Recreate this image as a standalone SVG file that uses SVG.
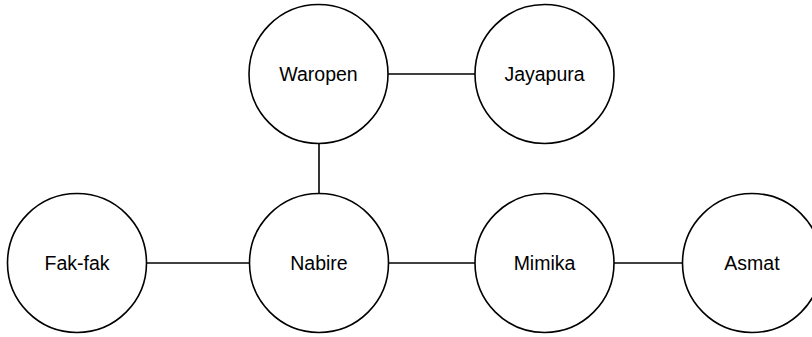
<svg xmlns="http://www.w3.org/2000/svg" width="812" height="337" viewBox="0 0 812 337">
  <style>
    .node circle { fill: #ffffff; stroke: #000000; stroke-width: 1.6; }
    .node text { font-family: "Liberation Sans", Arial, Helvetica, sans-serif; font-size: 19.5px; fill: #000000; text-anchor: middle; }
    .edges line { stroke: #000000; stroke-width: 1.6; }
  </style>
  <rect width="812" height="337" fill="#ffffff"/>
  <g id="edges" class="edges">
    <line x1="388" y1="74" x2="475" y2="74"/>
    <line x1="319" y1="143.5" x2="319" y2="193.5"/>
    <line x1="146.5" y1="263" x2="249.5" y2="263"/>
    <line x1="388.5" y1="263" x2="475" y2="263"/>
    <line x1="614" y1="263" x2="682.5" y2="263"/>
  </g>
  <g id="waropen" class="node">
    <circle cx="318.5" cy="74" r="69.5"/>
    <text x="318.5" y="81">Waropen</text>
  </g>
  <g id="jayapura" class="node">
    <circle cx="544.5" cy="74" r="69.5"/>
    <text x="544.5" y="81">Jayapura</text>
  </g>
  <g id="fakfak" class="node">
    <circle cx="77" cy="263" r="69.5"/>
    <text x="77" y="270">Fak-fak</text>
  </g>
  <g id="nabire" class="node">
    <circle cx="319" cy="263" r="69.5"/>
    <text x="319" y="270">Nabire</text>
  </g>
  <g id="mimika" class="node">
    <circle cx="544.5" cy="263" r="69.5"/>
    <text x="544.5" y="270">Mimika</text>
  </g>
  <g id="asmat" class="node">
    <circle cx="752" cy="263" r="69.5"/>
    <text x="752" y="270">Asmat</text>
  </g>
</svg>
